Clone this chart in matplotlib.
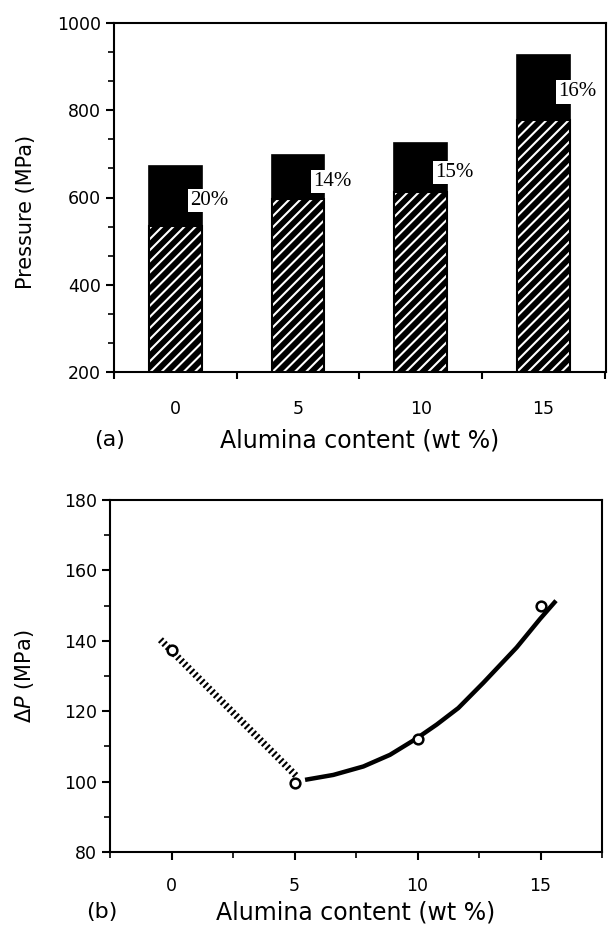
import matplotlib
matplotlib.use("Agg")
import matplotlib.pyplot as plt
from matplotlib.ticker import MultipleLocator, FixedLocator

# ##################### DATA #####################
alumina = ["0", "5", "10", "15"]
p_total = [672, 697, 724, 927]        # top of black part (MPa)
p_lower = [535, 597, 612, 777]        # top of hatched part (MPa)
pct_labels = ["20%", "14%", "15%", "16%"]

# panel (b) measured points
dp_x = [0, 5, 10, 15]
dp_y = [137.5, 99.7, 112.1, 149.8]

# hatched guide line
guide_x = [-0.45, 5.1]
guide_y = [140.3, 101.4]

# solid trend curve
curve_x = [5.43, 6.58, 7.80, 8.88, 9.93, 10.78, 11.66, 12.68, 14.03, 14.98, 15.63]
curve_y = [100.5, 101.9, 104.3, 107.6, 112.1, 116.2, 120.9, 128.1, 138.1, 146.2, 151.4]

plt.rcParams["font.family"] = "DejaVu Sans"
plt.rcParams["hatch.linewidth"] = 1.5
plt.rcParams["axes.linewidth"] = 1.5

fig = plt.figure(figsize=(6.08, 9.25), dpi=100)

# ##################### PANEL (a) #####################
ax1 = fig.add_axes([114 / 608, 1 - 372 / 925, 492 / 608, 349 / 925])
pos = list(range(len(alumina)))
bw = 0.43
ax1.bar(pos, p_lower, width=bw, color="black", edgecolor="white",
        hatch="///", linewidth=0)
ax1.bar(pos, p_lower, width=bw, fill=False, edgecolor="black", linewidth=1.5)
ax1.bar(pos, [t - l for t, l in zip(p_total, p_lower)], bottom=p_lower,
        width=bw, color="black", edgecolor="black", linewidth=1.2)

for i, lab in enumerate(pct_labels):
    ymid = (p_total[i] + p_lower[i]) / 2 - 10
    ax1.text(i + 0.12, ymid, lab, ha="left", va="center",
             fontsize=15, family="Liberation Serif",
             bbox=dict(facecolor="white", edgecolor="none", pad=1.5))

ax1.set_xlim(-0.5, 3.51)
ax1.set_ylim(200, 1000)
ax1.set_xticks(pos)
ax1.set_xticklabels(alumina)
ax1.xaxis.set_minor_locator(FixedLocator([-0.5, 0.5, 1.5, 2.5, 3.5]))
ax1.tick_params(axis="x", which="major", length=0, pad=20, labelsize=12.5)
ax1.tick_params(axis="x", which="minor", length=5, width=1.5, direction="out")
ax1.yaxis.set_major_locator(MultipleLocator(200))
ax1.yaxis.set_minor_locator(MultipleLocator(200 / 3))
ax1.tick_params(axis="y", which="major", length=6, width=1.5, labelsize=12.5)
ax1.tick_params(axis="y", which="minor", length=4, width=1.2)
ax1.set_ylabel("Pressure (MPa)", fontsize=15)
ax1.yaxis.set_label_coords(-0.158, 0.46)
ax1.set_xlabel("Alumina content (wt %)", fontsize=17, labelpad=8)
fig.text(110 / 608, 1 - 440 / 925, "(a)", fontsize=16, ha="center", va="center")

# ##################### PANEL (b) #####################
ax2 = fig.add_axes([110 / 608, 1 - 852 / 925, 492 / 608, 352 / 925])
ax2.plot(guide_x, guide_y, color="black", linewidth=5,
         linestyle=(0, (0.3, 0.4)), dash_capstyle="butt")
ax2.plot(curve_x, curve_y, color="black", linewidth=3.2,
         solid_capstyle="butt")
ax2.plot(dp_x, dp_y, linestyle="none", marker="o", markersize=7,
         markerfacecolor="white", markeredgecolor="black",
         markeredgewidth=1.8, zorder=5)

ax2.set_xlim(-2.5, 17.5)
ax2.set_ylim(80, 180)
ax2.xaxis.set_major_locator(MultipleLocator(5))
ax2.xaxis.set_minor_locator(MultipleLocator(2.5))
ax2.yaxis.set_major_locator(MultipleLocator(20))
ax2.yaxis.set_minor_locator(MultipleLocator(10))
ax2.tick_params(which="major", length=6, width=1.5, labelsize=12.5)
ax2.tick_params(which="minor", length=4, width=1.2)
ax2.tick_params(axis="x", which="major", pad=12)
ax2.set_ylabel("Δ$P$ (MPa)", fontsize=15)
ax2.yaxis.set_label_coords(-0.15, 0.5)
ax2.set_xlabel("Alumina content (wt %)", fontsize=17, labelpad=4)
fig.text(102 / 608, 1 - 912 / 925, "(b)", fontsize=16, ha="center", va="center")

fig.savefig("out.png", dpi=100)
